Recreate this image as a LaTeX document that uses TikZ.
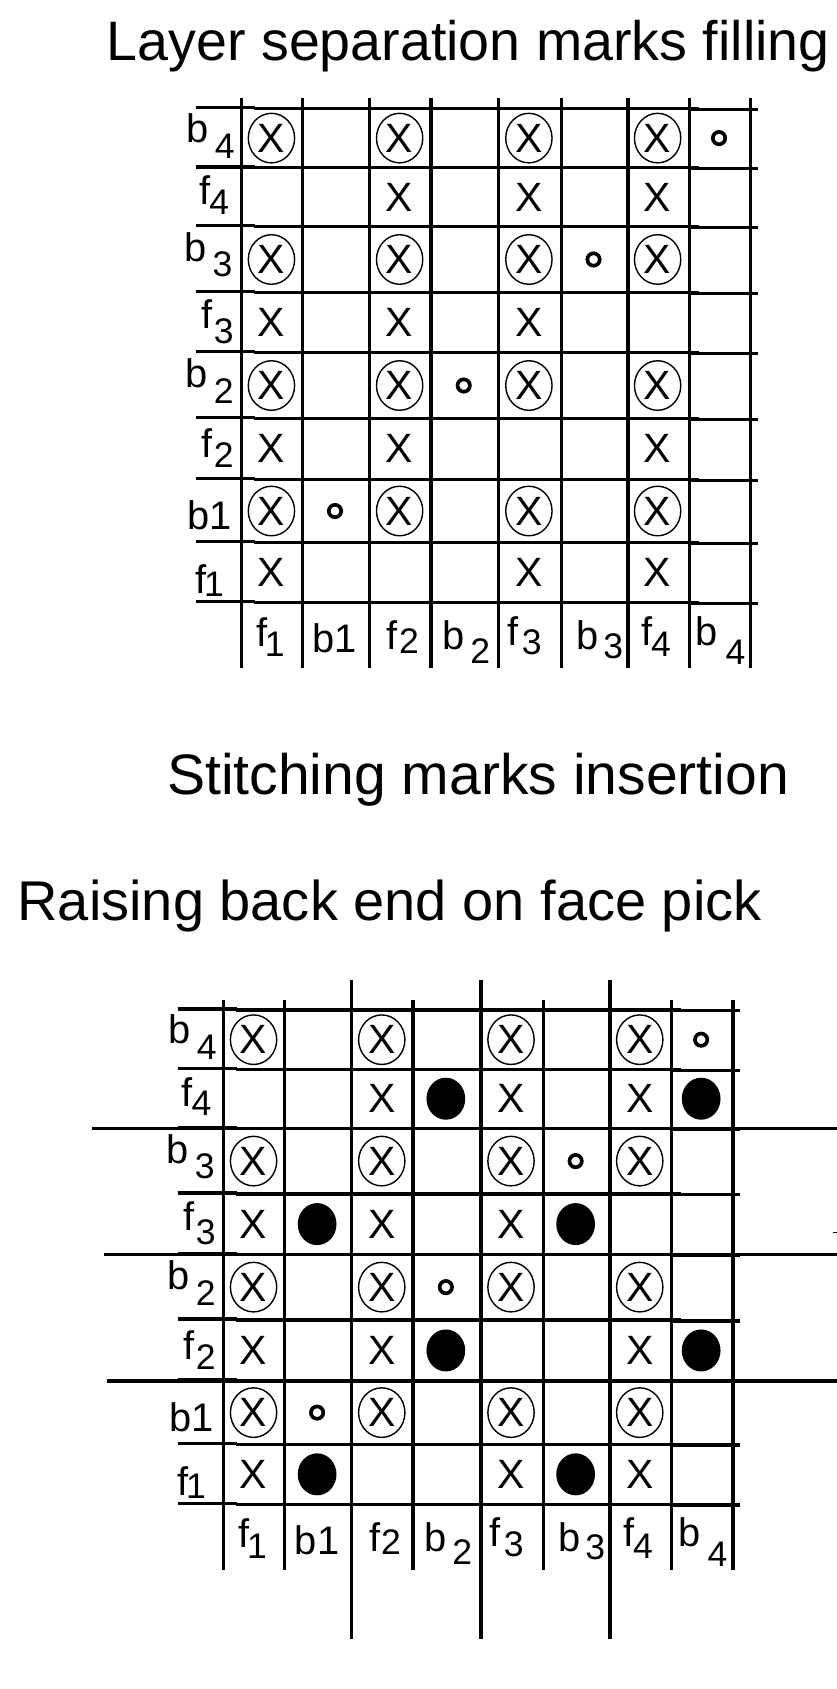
\documentclass[tikz,border=0pt]{standalone}
\usepackage{fontspec}
\setmainfont{Liberation Sans}
\usetikzlibrary{shapes.geometric}
\newcommand\lb[4]{#1\hspace{#3pt}\raisebox{-#4pt}{\fontsize{33}{33}\selectfont #2}}
\def\colc{{252,311,371,430.5,491,551,610.5,667.5}}
\def\rowc{{128.2,183,240.9,299.4,357.9,416.7,474.4,531.7}}
\newcommand\gridbody[1]{%
  \foreach \x in {224,281,343,400,463,521,583,640,697}
    \draw[gridline] (\x,91.3) -- (\x,620.4);
  \foreach \y in {100.6,155.7,210.4,271.4,327.4,388.4,445,503.8,559.5}{
    \draw[gridline] (181.5,\y-0.8) -- (237,\y-0.8);
    \draw[gridline] (236,\y) -- (649,\y);
    \draw[gridline] (640,\y+0.8) -- (704,\y+0.8);
  }
  \foreach \c/\r in {0/0,2/0,4/0,6/0,0/2,2/2,4/2,6/2,0/4,2/4,4/4,6/4,0/6,2/6,4/6,6/6}{
    \pgfmathsetmacro\px{\colc[\c]}\pgfmathsetmacro\py{\rowc[\r]}
    \node[crossring] (#1c\r\c) at (\px,\py) {X};
  }
  \foreach \c/\r in {2/1,4/1,6/1,0/3,2/3,4/3,0/5,2/5,6/5,0/7,4/7,6/7}{
    \pgfmathsetmacro\px{\colc[\c]}\pgfmathsetmacro\py{\rowc[\r]}
    \node[crossmark] (#1x\r\c) at (\px,\py) {X};
  }
  \foreach \c/\r in {7/0,5/2,3/4,1/6}{
    \pgfmathsetmacro\px{\colc[\c]}\pgfmathsetmacro\py{\rowc[\r]}
    \node[smallring] (#1o\r\c) at (\px,\py) {};
  }
  \node[rowlab] (#1rb4) at (218,132) {\lb{b}{4}{6}{15}};
  \node[rowlab] (#1rf4) at (213,190) {\lb{f}{4}{-1}{9}};
  \node[rowlab] (#1rb3) at (216,243) {\lb{b}{3}{6}{14}};
  \node[rowlab] (#1rf3) at (217,305) {\lb{f}{3}{1.5}{13.5}};
  \node[rowlab] (#1rb2) at (217,360) {\lb{b}{2}{6}{15}};
  \node[rowlab] (#1rf2) at (217,425) {\lb{f}{2}{1}{9}};
  \node[rowlab] (#1rb1) at (215,492) {b1};
  \node[rowlab] (#1rf1) at (208,551) {\lb{f}{1}{-2}{3}};
  \node[collab] (#1kf1) at (251,600) {\lb{f}{1}{-2}{9.5}};
  \node[collab] (#1kb1) at (311,606) {b1};
  \node[collab] (#1kf2) at (374,603) {\lb{f}{2}{1}{3.5}};
  \node[collab] (#1kb2) at (433,603) {\lb{b}{2}{5}{12.5}};
  \node[collab] (#1kf3) at (487,599) {\lb{f}{3}{3}{9}};
  \node[collab] (#1kb3) at (557,603) {\lb{b}{3}{4}{8}};
  \node[collab] (#1kf4) at (609,599) {\lb{f}{4}{-1}{10.5}};
  \node[collab] (#1kb4) at (669,599) {\lb{b}{4}{7}{18}};
}
\begin{document}
\begin{tikzpicture}[x=1pt,y=-1pt,
  gridline/.style={line width=3.1pt},
  crossring/.style={ellipse,draw,line width=1.3pt,minimum width=43pt,minimum height=46pt,inner sep=0pt,font=\fontsize{38}{38}\selectfont},
  crossmark/.style={inner sep=0pt,font=\fontsize{38}{38}\selectfont},
  smallring/.style={circle,draw,line width=3.4pt,minimum size=11.5pt,inner sep=0pt},
  bigdot/.style={ellipse,fill=black,minimum width=36pt,minimum height=39pt,inner sep=0pt},
  rowlab/.style={anchor=base east,inner sep=0pt,font=\fontsize{37}{37}\selectfont},
  collab/.style={anchor=base,inner sep=0pt,font=\fontsize{37}{37}\selectfont},
  titletext/.style={anchor=base west,inner sep=0pt,font=\fontsize{52}{52}\selectfont}]
\fill[white] (0,0) rectangle (777,1568);
\useasboundingbox (0,0) rectangle (777,1568);
\node[titletext,font=\fontsize{51.6}{51.6}\selectfont] (t1) at (99,56) {Layer separation marks filling};
\node[titletext,font=\fontsize{53}{53}\selectfont] (t2) at (155,738) {Stitching marks insertion};
\node[titletext] (t3) at (16,855) {Raising back end on face pick};
\begin{scope}
  \gridbody{A}
\end{scope}
\begin{scope}[shift={(-16.6,837)}]
  \foreach \x in {343,463,583}
    \draw[gridline] (\x,73) -- (\x,685);
  \draw[gridline] (102,210.4) -- (800,210.4);
  \draw[gridline] (113.3,327.4) -- (800,327.4);
  \draw[gridline] (115.6,445) -- (800,445);
  \draw[line width=1.2pt] (789.6,307.5) -- (793.6,307.5);
  \gridbody{B}
  \foreach \c/\r in {3/1,7/1,1/3,5/3,3/5,7/5,1/7,5/7}{
    \pgfmathsetmacro\px{\colc[\c]}\pgfmathsetmacro\py{\rowc[\r]}
    \node[bigdot] (Bd\r\c) at (\px,\py) {};
  }
\end{scope}
\end{tikzpicture}
\end{document}
